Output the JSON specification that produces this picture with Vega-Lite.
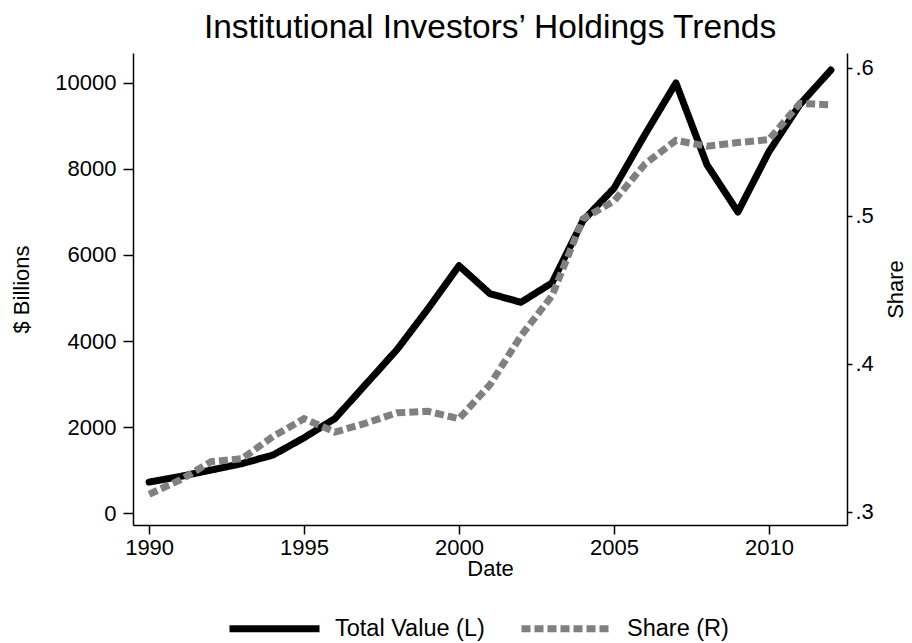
{
  "$schema": "https://vega.github.io/schema/vega-lite/v6.json",
  "width": 714,
  "height": 472,
  "autosize": {"type": "none"},
  "padding": {"left": 133, "top": 53, "right": 65, "bottom": 118},
  "background": "white",
  "config": {
    "font": "Liberation Sans",
    "view": {"stroke": null},
    "axis": {
      "grid": false,
      "domainColor": "black",
      "domainWidth": 1.5,
      "tickColor": "black",
      "tickWidth": 1.5,
      "labelColor": "black",
      "titleColor": "black",
      "labelFontSize": 22,
      "titleFontSize": 22,
      "titleFontWeight": "normal",
      "labelFont": "Liberation Sans",
      "titleFont": "Liberation Sans"
    },
    "legend": {
      "labelFont": "Liberation Sans",
      "labelFontSize": 23.5,
      "labelColor": "black"
    }
  },
  "title": {
    "text": "Institutional Investors’ Holdings Trends",
    "fontSize": 33.5,
    "fontWeight": "normal",
    "font": "Liberation Sans",
    "color": "black",
    "anchor": "middle",
    "offset": 8
  },
  "data": {
    "values": [
      {"year": 1990, "series": "Total Value (L)", "value": 720},
      {"year": 1991, "series": "Total Value (L)", "value": 850},
      {"year": 1992, "series": "Total Value (L)", "value": 1000},
      {"year": 1993, "series": "Total Value (L)", "value": 1150},
      {"year": 1994, "series": "Total Value (L)", "value": 1350},
      {"year": 1995, "series": "Total Value (L)", "value": 1750},
      {"year": 1996, "series": "Total Value (L)", "value": 2200},
      {"year": 1997, "series": "Total Value (L)", "value": 3000},
      {"year": 1998, "series": "Total Value (L)", "value": 3800},
      {"year": 1999, "series": "Total Value (L)", "value": 4750},
      {"year": 2000, "series": "Total Value (L)", "value": 5750},
      {"year": 2001, "series": "Total Value (L)", "value": 5100},
      {"year": 2002, "series": "Total Value (L)", "value": 4900},
      {"year": 2003, "series": "Total Value (L)", "value": 5350},
      {"year": 2004, "series": "Total Value (L)", "value": 6800},
      {"year": 2005, "series": "Total Value (L)", "value": 7550},
      {"year": 2006, "series": "Total Value (L)", "value": 8800},
      {"year": 2007, "series": "Total Value (L)", "value": 10000},
      {"year": 2008, "series": "Total Value (L)", "value": 8100},
      {"year": 2009, "series": "Total Value (L)", "value": 7000},
      {"year": 2010, "series": "Total Value (L)", "value": 8400},
      {"year": 2011, "series": "Total Value (L)", "value": 9500},
      {"year": 2012, "series": "Total Value (L)", "value": 10300},
      {"year": 1990, "series": "Share (R)", "value": 0.312},
      {"year": 1991, "series": "Share (R)", "value": 0.3216},
      {"year": 1992, "series": "Share (R)", "value": 0.334},
      {"year": 1993, "series": "Share (R)", "value": 0.336},
      {"year": 1994, "series": "Share (R)", "value": 0.351},
      {"year": 1995, "series": "Share (R)", "value": 0.363},
      {"year": 1996, "series": "Share (R)", "value": 0.354},
      {"year": 1997, "series": "Share (R)", "value": 0.36},
      {"year": 1998, "series": "Share (R)", "value": 0.367},
      {"year": 1999, "series": "Share (R)", "value": 0.368},
      {"year": 2000, "series": "Share (R)", "value": 0.363},
      {"year": 2001, "series": "Share (R)", "value": 0.386},
      {"year": 2002, "series": "Share (R)", "value": 0.419},
      {"year": 2003, "series": "Share (R)", "value": 0.446},
      {"year": 2004, "series": "Share (R)", "value": 0.498},
      {"year": 2005, "series": "Share (R)", "value": 0.51},
      {"year": 2006, "series": "Share (R)", "value": 0.535},
      {"year": 2007, "series": "Share (R)", "value": 0.551},
      {"year": 2008, "series": "Share (R)", "value": 0.547},
      {"year": 2009, "series": "Share (R)", "value": 0.5495},
      {"year": 2010, "series": "Share (R)", "value": 0.5515},
      {"year": 2011, "series": "Share (R)", "value": 0.576},
      {"year": 2012, "series": "Share (R)", "value": 0.575}
    ]
  },
  "encoding": {
    "x": {
      "field": "year",
      "type": "quantitative",
      "scale": {"domain": [1989.48, 2012.52], "nice": false, "zero": false},
      "axis": {
        "title": "Date",
        "values": [1990, 1995, 2000, 2005, 2010],
        "format": "d",
        "tickSize": 9,
        "labelPadding": 3,
        "titlePadding": 0
      }
    },
    "color": {
      "field": "series",
      "type": "nominal",
      "scale": {"domain": ["Total Value (L)", "Share (R)"], "range": ["#000000", "#808080"]},
      "legend": {
        "title": null,
        "orient": "none",
        "direction": "horizontal",
        "legendX": 93,
        "legendY": 527,
        "symbolType": "stroke",
        "symbolSize": 8100,
        "symbolStrokeWidth": 7,
        "labelOffset": 12,
        "columnPadding": 22
      }
    },
    "strokeDash": {
      "field": "series",
      "type": "nominal",
      "scale": {"domain": ["Total Value (L)", "Share (R)"], "range": [[1, 0], [9, 4]]},
      "legend": {
        "title": null,
        "orient": "none",
        "direction": "horizontal",
        "legendX": 93,
        "legendY": 527,
        "symbolType": "stroke",
        "symbolSize": 8100,
        "symbolStrokeWidth": 7,
        "labelOffset": 12,
        "columnPadding": 22
      }
    }
  },
  "layer": [
    {
      "transform": [{"filter": "datum.series === 'Total Value (L)'"}],
      "mark": {"type": "line", "strokeWidth": 7, "strokeCap": "round", "strokeJoin": "round"},
      "encoding": {
        "y": {
          "field": "value",
          "type": "quantitative",
          "scale": {"domain": [-278, 10696], "nice": false, "zero": false},
          "axis": {
            "orient": "left",
            "title": "$ Billions",
            "values": [0, 2000, 4000, 6000, 8000, 10000],
            "format": "d",
            "tickSize": 10,
            "labelPadding": 7,
            "titlePadding": 21
          }
        }
      }
    },
    {
      "transform": [{"filter": "datum.series === 'Share (R)'"}],
      "mark": {"type": "line", "strokeWidth": 7, "strokeCap": "butt", "strokeJoin": "miter"},
      "encoding": {
        "y": {
          "field": "value",
          "type": "quantitative",
          "scale": {"domain": [0.2912, 0.61], "nice": false, "zero": false},
          "axis": {
            "orient": "right",
            "title": "Share",
            "values": [0.3, 0.4, 0.5, 0.6],
            "labelExpr": "replace(format(datum.value, '.1f'), '0.', '.')",
            "tickSize": 5,
            "labelPadding": 3,
            "titlePadding": 34,
            "titleAngle": 270
          }
        }
      }
    }
  ],
  "resolve": {"scale": {"y": "independent"}}
}
